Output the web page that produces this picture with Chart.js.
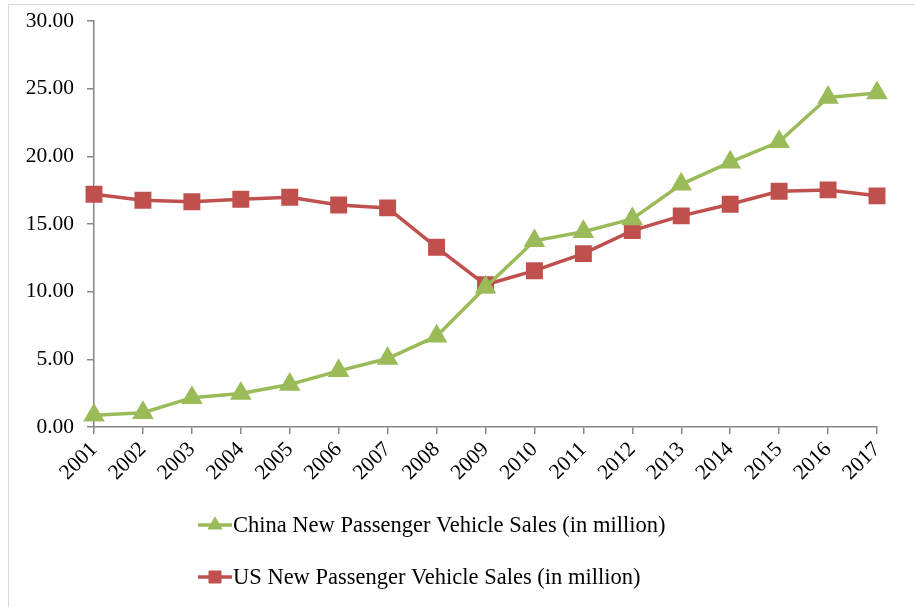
<!DOCTYPE html>
<html>
<head>
<meta charset="utf-8">
<script src="https://cdn.jsdelivr.net/npm/chart.js@4"></script>
<style>
  html, body { margin: 0; padding: 0; background: #fff; }
  #wrap { position: relative; width: 915px; height: 607px; }
  #frame { position: absolute; left: 8px; top: 4px; right: -2px; bottom: -2px;
           border-left: 1px solid #d9d9d9; border-top: 1px solid #d9d9d9; }
  canvas { position: absolute; left: 0; top: 0; }
</style>
</head>
<body>
<div id="wrap">
  <div id="frame"></div>
  <canvas id="salesChart" width="915" height="607"></canvas>
</div>
<script>
const years = ['2001', '2002', '2003', '2004', '2005', '2006', '2007', '2008', '2009',
  '2010', '2011', '2012', '2013', '2014', '2015', '2016', '2017'];
const chinaSales = [0.86, 1.06, 2.17, 2.47, 3.14, 4.15, 5.06, 6.71, 10.33,
  13.76, 14.43, 15.37, 17.93, 19.57, 21.07, 24.35, 24.68];
const usSales = [17.2, 16.76, 16.65, 16.83, 16.98, 16.41, 16.19, 13.28, 10.51,
  11.55, 12.81, 14.51, 15.6, 16.46, 17.42, 17.52, 17.08];
const seriesLabels = ['China New Passenger Vehicle Sales (in million)',
  'US New Passenger Vehicle Sales (in million)'];

const green = '#9bbb59';
const red = '#c0504d';
const axisGray = '#868686';
const fontFamily = '"Liberation Serif", "Times New Roman", serif';

// legend stacked in two rows under the axis, like the original
const stackedLegend = {
  id: 'stackedLegend',
  afterDraw(chart) {
    const ctx = chart.ctx;
    const area = chart.chartArea;
    const rows = [98, 150];
    ctx.save();
    chart.data.datasets.forEach((ds, i) => {
      const y = area.bottom + rows[i];
      const x0 = area.left + 104;
      ctx.strokeStyle = ds.borderColor;
      ctx.lineWidth = 3.5;
      ctx.beginPath();
      ctx.moveTo(x0, y);
      ctx.lineTo(x0 + 34, y);
      ctx.stroke();
      ctx.fillStyle = ds.pointBackgroundColor;
      ctx.strokeStyle = ds.pointBorderColor;
      ctx.lineWidth = 1;
      Chart.helpers.drawPoint(ctx, {
        pointStyle: ds.pointStyle,
        radius: ds.pointRadius - 1,
        borderWidth: 1,
        rotation: 0
      }, x0 + 17, y);
      ctx.fillStyle = '#000';
      ctx.font = '22.5px ' + fontFamily;
      ctx.textBaseline = 'middle';
      ctx.textAlign = 'left';
      ctx.fillText(ds.label, x0 + 35, y + 1);
    });
    ctx.restore();
  }
};

new Chart(document.getElementById('salesChart'), {
  type: 'line',
  data: {
    labels: years,
    datasets: [
      {
        label: seriesLabels[0],
        data: chinaSales,
        borderColor: green,
        backgroundColor: green,
        pointBackgroundColor: green,
        pointBorderColor: green,
        borderWidth: 3.5,
        pointStyle: 'triangle',
        pointRadius: 9,
        tension: 0
      },
      {
        label: seriesLabels[1],
        data: usSales,
        borderColor: red,
        backgroundColor: red,
        pointBackgroundColor: red,
        pointBorderColor: red,
        borderWidth: 3.5,
        pointStyle: 'rect',
        pointRadius: 9.5,
        tension: 0
      }
    ]
  },
  options: {
    responsive: false,
    animation: false,
    layout: { autoPadding: false, padding: { left: 0, top: 21, right: 38, bottom: 0 } },
    plugins: {
      legend: { display: false },
      tooltip: { enabled: false }
    },
    scales: {
      x: {
        offset: false,
        afterFit: (scale) => { scale.height = 180; },
        border: { color: axisGray, width: 1.5 },
        grid: { drawOnChartArea: false, tickLength: 7, color: axisGray, lineWidth: 1.5 },
        ticks: {
          color: '#000',
          font: { family: fontFamily, size: 21.5 },
          minRotation: 45,
          maxRotation: 45,
          padding: 3,
          autoSkip: false
        }
      },
      y: {
        min: 0,
        max: 30,
        afterFit: (scale) => {
          scale.width = 94;
          scale.paddingTop = 0;
          scale.paddingBottom = 0;
        },
        border: { color: axisGray, width: 1.5 },
        grid: { drawOnChartArea: false, tickLength: 7, color: axisGray, lineWidth: 1.5 },
        ticks: {
          stepSize: 5,
          color: '#000',
          padding: 13,
          font: { family: fontFamily, size: 21.5 },
          callback: (v) => v.toFixed(2)
        }
      }
    }
  },
  plugins: [stackedLegend]
});
</script>
</body>
</html>
